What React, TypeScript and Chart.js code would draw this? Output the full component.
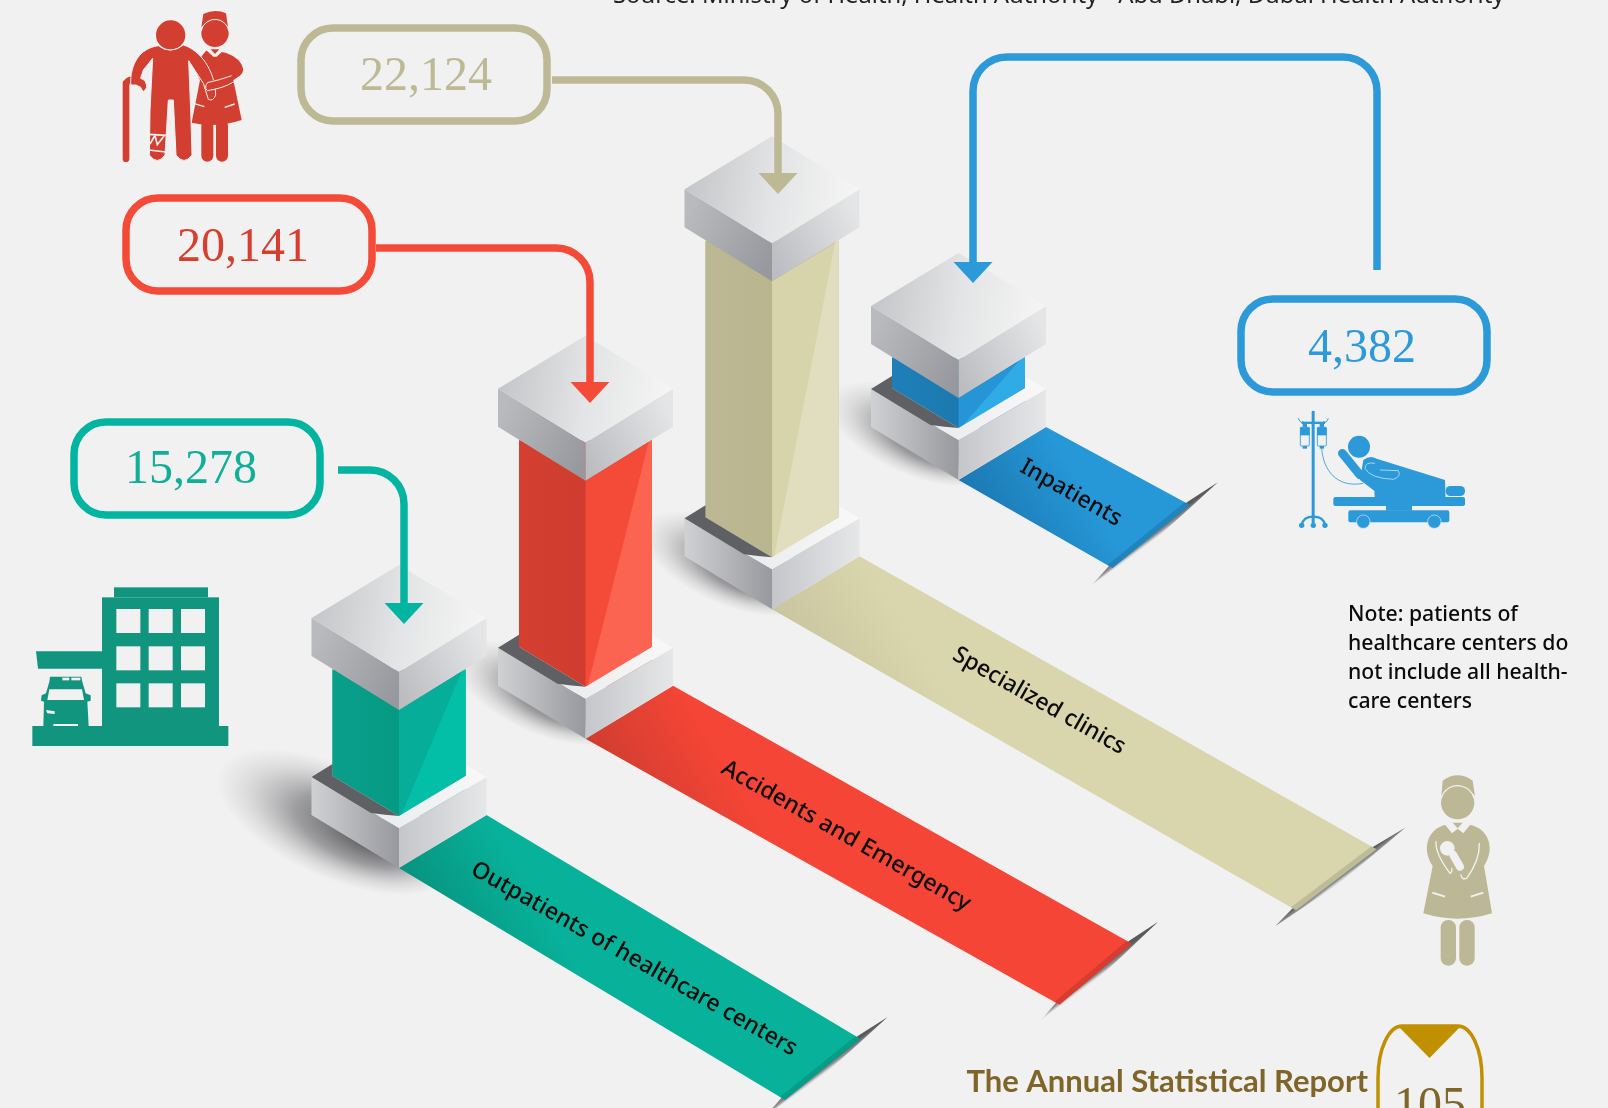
import React, { useEffect, useRef } from "react";
import { Chart, registerables, LinearScale } from "chart.js";

const categories = ["Outpatients of healthcare centers", "Accidents and Emergency", "Specialized clinics", "Inpatients"];
const patients = [15278, 20141, 22124, 4382];
const noteLines = ["Note: patients of", "healthcare centers do", "not include all health-", "care centers"];
const sourceText = "Source: Ministry of Health, Health Authority - Abu Dhabi, Dubai Health Authority";

// The reference's column heights are not proportional: this axis reproduces its value → height mapping.
const axisValues = [0, 4382, 15278, 20141, 22124];
const axisHeights = [0, 30, 106, 206, 276];

class PictureHeightScale extends LinearScale {
  static id = "pictureHeight";
  static defaults = LinearScale.defaults;
  getPixelForValue(v: number) {
    if (v === null || v === undefined || Number.isNaN(v)) return NaN;
    const max = axisHeights[axisHeights.length - 1];
    let h = 0;
    for (let i = 1; i < axisValues.length; i++) {
      if (v <= axisValues[i]) {
        const t = (v - axisValues[i - 1]) / (axisValues[i] - axisValues[i - 1]);
        h = axisHeights[i - 1] + t * (axisHeights[i] - axisHeights[i - 1]);
        break;
      }
      h = max;
    }
    return this.bottom - (h / max) * (this.bottom - this.top);
  }
}
Chart.register(...registerables, PictureHeightScale);

const BG = "#f1f1f1";
const PAL = [
  { left: "#069a85", left2: "#0a9f8a", right: "#06ae9a", facet: "#04bfa8", ribbon: "#08b29a", ribbonDark: "#07937f", box: "#03b5a1", text: "#12ae98", stroke: "#03b5a1" },
  { left: "#cf3c2d", left2: "#d43f30", right: "#f44a38", facet: "#fa6450", ribbon: "#f44536", ribbonDark: "#cf3d30", box: "#f44b38", text: "#d43f30", stroke: "#f44b38" },
  { left: "#b9b58f", left2: "#bcb893", right: "#d7d3ab", facet: "#e1debf", ribbon: "#d9d5ad", ribbonDark: "#c9c59e", box: "#bdb995", text: "#bdb995", stroke: "#bdb995" },
  { left: "#1c79b0", left2: "#1e7fb8", right: "#2595d8", facet: "#2fabe5", ribbon: "#2698d8", ribbonDark: "#1b78b2", box: "#2c9ad8", text: "#2c9ad8", stroke: "#2c9ad8" },
];
const RISE = 129.33;
const SIDE = 40.5;

type Pt = [number, number];
function poly(c: CanvasRenderingContext2D, pts: Pt[], fill: any) {
  c.beginPath();
  pts.forEach((p, i) => (i ? c.lineTo(p[0], p[1]) : c.moveTo(p[0], p[1])));
  c.closePath();
  c.fillStyle = fill;
  c.fill();
}
function grad(c: CanvasRenderingContext2D, x0: number, y0: number, x1: number, y1: number, stops: [number, string][]) {
  const g = c.createLinearGradient(x0, y0, x1, y1);
  stops.forEach(([o, col]) => g.addColorStop(o, col));
  return g;
}
function rr(c: CanvasRenderingContext2D, x: number, y: number, w: number, h: number, r: number) {
  c.beginPath();
  c.roundRect(x, y, w, h, r);
}

function drawGroundShadow(c: CanvasRenderingContext2D, x: number, T: number, reach: number) {
  c.save();
  c.translate(x - reach * 0.5, T + 6);
  c.rotate(0.42);
  c.scale(1, 0.44);
  const g = c.createRadialGradient(reach * 0.35, 0, 0, 0, 0, reach);
  g.addColorStop(0, "rgba(50,50,54,0.88)");
  g.addColorStop(0.5, "rgba(80,80,84,0.52)");
  g.addColorStop(0.8, "rgba(120,120,124,0.18)");
  g.addColorStop(1, "rgba(140,140,144,0)");
  c.fillStyle = g;
  c.beginPath();
  c.arc(0, 0, reach, 0, Math.PI * 2);
  c.fill();
  c.restore();
}

// ribbon end corners relative to the plate corners
const RIBBON_ENDS: [number, number, number, number][] = [
  [374, 224, 386, 232],
  [459, 258, 474, 266],
  [517, 293, 524, 301],
  [144, 78, 154, 88],
];
const SHADOW_REACH = [128, 92, 92, 92];

function drawRibbon(c: CanvasRenderingContext2D, i: number, x: number, T: number) {
  const p = PAL[i];
  const e = RIBBON_ENDS[i];
  const U: Pt = [x + 87.5, T - 1];
  const L: Pt = [x, T + 52];
  const UE: Pt = [U[0] + e[0], U[1] + e[1]];
  const LE: Pt = [L[0] + e[2], L[1] + e[3]];
  const ex = UE[0] - LE[0], ey = UE[1] - LE[1];
  const a: Pt = [LE[0] - ex * 0.26, LE[1] - ey * 0.26];
  const b: Pt = [UE[0] + ex * 0.36, UE[1] + ey * 0.36];
  const n: Pt = [0.6, 0.8];
  const mid: Pt = [(LE[0] + UE[0]) / 2, (LE[1] + UE[1]) / 2];
  const m: Pt = [mid[0] + n[0] * 5, mid[1] + n[1] * 5];
  poly(c, [a, m, b, [UE[0] - n[0] * 4, UE[1] - n[1] * 4], [LE[0] - n[0] * 4, LE[1] - n[1] * 4]],
    grad(c, mid[0] - n[0] * 3, mid[1] - n[1] * 3, mid[0] + n[0] * 5, mid[1] + n[1] * 5, [[0, "#5a5a5c"], [0.55, "#979799"], [1, "rgba(241,241,241,0.1)"]]));
  poly(c, [U, UE, LE, L], grad(c, L[0], L[1], L[0] + 150, L[1] - 90, [[0, p.ribbonDark], [0.6, p.ribbon], [1, p.ribbon]]));
  // faint rim on the far edge
  c.save();
  c.globalAlpha = 0.12;
  poly(c, [[UE[0] - 5, UE[1] - 3], UE, LE, [LE[0] - 5, LE[1] - 3]], "#000");
  c.restore();
}

function drawPlateSides(c: CanvasRenderingContext2D, x: number, T: number) {
  poly(c, [[x - 87.5, T - 39], [x, T + 12], [x, T + 52], [x - 87.5, T - 1]],
    grad(c, x - 87.5, T, x, T, [[0, "#d0d1d3"], [1, "#98999e"]]));
  poly(c, [[x + 87.5, T - 39], [x, T + 12], [x, T + 52], [x + 87.5, T - 1]],
    grad(c, x, T, x + 87.5, T, [[0, "#c5c6c9"], [1, "#e6e7e9"]]));
}
function drawPlateTop(c: CanvasRenderingContext2D, x: number, T: number) {
  poly(c, [[x - 87.5, T - 39], [x, T - 92], [x + 87.5, T - 39], [x, T + 12]], "#f7f7f8");
}
function drawPlateFront(c: CanvasRenderingContext2D, x: number, T: number) {
  drawPlateSides(c, x, T);
  poly(c, [[x - 87.5, T - 39], [x - 66.5, T - 40], [x, T], [x + 66.5, T - 40], [x + 87.5, T - 39], [x, T + 12]],
    grad(c, x - 40, T, x + 87, T - 30, [[0, "#e9eaeb"], [1, "#f8f8f9"]]));
  c.beginPath();
  c.moveTo(x - 87.5, T - 39);
  c.lineTo(x - 66.5, T - 52);
  c.lineTo(x - 66.5, T - 40);
  c.lineTo(x, T);
  c.quadraticCurveTo(x - 14, T - 1, x - 28, T - 3);
  c.closePath();
  c.fillStyle = "#5f6063";
  c.fill();
}
function drawShaftFaces(c: CanvasRenderingContext2D, i: number, x: number, T: number, B: number) {
  const p = PAL[i];
  const hw = 66.5;
  poly(c, [[x - hw, B - SIDE], [x, B], [x, T], [x - hw, T - SIDE]], grad(c, x - hw, T, x, T, [[0, p.left2], [1, p.left]]));
  poly(c, [[x, B], [x + hw, B - SIDE], [x + hw, T - SIDE], [x, T]], p.right);
  poly(c, [[x + 2, T], [x + hw - 3, B - SIDE], [x + hw, B - SIDE], [x + hw, T - SIDE]], p.facet);
}
function drawBlock(c: CanvasRenderingContext2D, x: number, B: number) {
  poly(c, [[x - 87.5, B - 92], [x, B - 38], [x, B], [x - 87.5, B - 54]],
    grad(c, x - 87.5, B - 60, x, B - 20, [[0, "#b9babd"], [1, "#97989d"]]));
  poly(c, [[x + 87.5, B - 92], [x, B - 38], [x, B], [x + 87.5, B - 54]],
    grad(c, x, B - 20, x + 87.5, B - 60, [[0, "#bcbdc0"], [1, "#e4e5e7"]]));
  poly(c, [[x - 87.5, B - 92], [x, B - 145], [x + 87.5, B - 92], [x, B - 38]],
    grad(c, x - 87.5, B - 100, x + 87.5, B - 75, [[0, "#c4c5c8"], [0.5, "#e3e4e5"], [1, "#f6f6f6"]]));
}

function leader(c: CanvasRenderingContext2D, pts: Pt[], color: string) {
  c.save();
  c.strokeStyle = color;
  c.lineWidth = 7.5;
  c.beginPath();
  c.moveTo(pts[0][0], pts[0][1]);
  for (let i = 1; i < pts.length - 1; i++) c.arcTo(pts[i][0], pts[i][1], pts[i + 1][0], pts[i + 1][1], 34);
  c.lineTo(pts[pts.length - 1][0], pts[pts.length - 1][1]);
  c.stroke();
  const [tx, ty] = pts[pts.length - 1];
  poly(c, [[tx - 19.5, ty - 3], [tx + 19.5, ty - 3], [tx, ty + 18]], color);
  c.restore();
}
function callout(c: CanvasRenderingContext2D, x: number, y: number, color: string, textColor: string, text: string, cx: number, base: number) {
  c.save();
  c.strokeStyle = color;
  c.lineWidth = 7.5;
  rr(c, x + 1, y + 1, 246, 93, 32);
  c.stroke();
  c.fillStyle = textColor;
  c.font = '48px "Liberation Serif"';
  c.textAlign = "center";
  c.textBaseline = "alphabetic";
  c.fillText(text, cx, base);
  c.restore();
}

function elderIcon(c: CanvasRenderingContext2D) {
  c.save();
  c.translate(100, 0);
  c.scale(1 / 3, 1 / 3);
  const col = "#d23e2f";
  c.fillStyle = col;
  rr(c, 68, 240, 20, 246, 10);
  c.fill();
  c.strokeStyle = col;
  c.lineWidth = 18;
  c.beginPath();
  c.moveTo(78, 255);
  c.quadraticCurveTo(80, 240, 95, 238);
  c.stroke();
  rr(c, 304, 360, 36, 125, 18);
  c.fill();
  rr(c, 348, 360, 36, 125, 18);
  c.fill();
  c.beginPath();
  c.moveTo(318, 152);
  c.quadraticCurveTo(385, 150, 415, 180);
  c.quadraticCurveTo(445, 215, 412, 232);
  c.lineTo(400, 240);
  c.lineTo(425, 360);
  c.quadraticCurveTo(350, 385, 275, 368);
  c.lineTo(300, 240);
  c.lineTo(280, 200);
  c.closePath();
  c.fill();
  c.beginPath();
  c.arc(345, 100, 41, 0, Math.PI * 2);
  c.fill();
  c.beginPath();
  c.moveTo(304, 82);
  c.lineTo(310, 42);
  c.quadraticCurveTo(345, 25, 378, 40);
  c.lineTo(384, 82);
  c.quadraticCurveTo(345, 35, 304, 82);
  c.fill();
  c.strokeStyle = BG;
  c.lineWidth = 3;
  c.beginPath();
  c.arc(345, 100, 42, Math.PI * 1.05, Math.PI * 1.95);
  c.stroke();
  c.fillStyle = BG;
  c.beginPath();
  c.moveTo(318, 150);
  c.lineTo(372, 150);
  c.lineTo(350, 170);
  c.lineTo(340, 170);
  c.closePath();
  c.fill();
  poly(c, [[332, 148], [358, 148], [345, 162]], col);
  c.strokeStyle = BG;
  c.lineWidth = 4;
  c.beginPath();
  c.moveTo(283, 311); c.lineTo(313, 320);
  c.moveTo(374, 322); c.lineTo(404, 312);
  c.stroke();
  c.beginPath();
  c.arc(212, 105, 44, 0, Math.PI * 2);
  c.fillStyle = col;
  c.fill();
  c.beginPath();
  c.moveTo(92, 255);
  c.bezierCurveTo(90, 190, 120, 145, 175, 137);
  c.quadraticCurveTo(212, 165, 250, 135);
  c.bezierCurveTo(300, 150, 345, 210, 347, 285);
  c.quadraticCurveTo(340, 305, 325, 298);
  c.lineTo(310, 250);
  c.lineTo(266, 182);
  c.lineTo(272, 330);
  c.lineTo(276, 465);
  c.quadraticCurveTo(252, 498, 228, 465);
  c.lineTo(220, 300);
  c.lineTo(205, 300);
  c.lineTo(195, 465);
  c.quadraticCurveTo(172, 498, 148, 465);
  c.lineTo(150, 330);
  c.lineTo(158, 175);
  c.lineTo(130, 210);
  c.lineTo(122, 235);
  c.quadraticCurveTo(140, 240, 140, 262);
  c.quadraticCurveTo(130, 285, 122, 262);
  c.lineTo(108, 255);
  c.closePath();
  c.fill();
  c.strokeStyle = BG;
  c.lineWidth = 3;
  c.stroke();
  c.strokeStyle = col;
  c.lineWidth = 26;
  c.lineCap = "round";
  c.beginPath();
  c.moveTo(412, 215);
  c.quadraticCurveTo(385, 240, 330, 258);
  c.stroke();
  c.strokeStyle = BG;
  c.lineWidth = 3;
  c.lineCap = "butt";
  c.beginPath();
  c.moveTo(395, 227);
  c.quadraticCurveTo(360, 240, 322, 248);
  c.quadraticCurveTo(312, 262, 322, 272);
  c.quadraticCurveTo(370, 265, 402, 245);
  c.stroke();
  c.lineWidth = 5;
  c.beginPath();
  c.moveTo(146, 403); c.lineTo(198, 406);
  c.moveTo(150, 432); c.lineTo(165, 406); c.lineTo(172, 434); c.lineTo(192, 408);
  c.moveTo(146, 450); c.lineTo(198, 456);
  c.stroke();
  c.restore();
}

function hospitalIcon(c: CanvasRenderingContext2D) {
  c.save();
  c.translate(20, 570);
  c.scale(1 / 3, 1 / 3);
  const col = "#12957f";
  c.fillStyle = col;
  c.fillRect(37, 468, 588, 60);
  c.fillRect(246, 82, 351, 386);
  c.fillRect(282, 52, 282, 30);
  poly(c, [[48, 244], [246, 244], [246, 296], [54, 296]], col);
  c.fillStyle = BG;
  [289, 386, 483].forEach((x) => [117, 229, 340].forEach((y) => c.fillRect(x, y, 72, 72)));
  poly(c, [[90, 320], [184, 320], [187, 335], [197, 370], [212, 376], [212, 392], [202, 395], [206, 468], [70, 468], [72, 395], [63, 392], [65, 376], [78, 370], [88, 335]], col);
  poly(c, [[88, 358], [186, 358], [192, 390], [82, 390]], BG);
  c.fillStyle = BG;
  c.fillRect(127, 323, 21, 8);
  c.fillRect(154, 323, 27, 8);
  c.fillRect(100, 462, 74, 6);
  poly(c, [[78, 420], [104, 424], [104, 432], [82, 430]], BG);
  c.restore();
}

function bedIcon(c: CanvasRenderingContext2D) {
  c.save();
  c.translate(1280, 400);
  c.scale(1 / 3, 1 / 3);
  const col = "#2c9ad8";
  c.fillStyle = col;
  c.strokeStyle = col;
  rr(c, 95, 32, 9, 340, 4);
  c.fill();
  c.fillRect(65, 65, 70, 7);
  c.lineWidth = 7;
  c.beginPath();
  c.moveTo(65, 375);
  c.quadraticCurveTo(70, 350, 100, 350);
  c.quadraticCurveTo(130, 350, 135, 375);
  c.stroke();
  [65, 100, 135].forEach((x) => { c.beginPath(); c.arc(x, 376, 8, 0, Math.PI * 2); c.fill(); });
  c.lineWidth = 3;
  c.beginPath();
  c.moveTo(55, 55); c.quadraticCurveTo(62, 72, 70, 65);
  c.moveTo(145, 55); c.quadraticCurveTo(138, 72, 130, 65);
  c.stroke();
  [60, 111].forEach((x) => {
    c.lineWidth = 2.5;
    rr(c, x + 1, 82, 27, 56, 3);
    c.stroke();
    c.fillRect(x, 82, 29, 24);
    c.fillRect(x + 8, 138, 13, 8);
    c.fillRect(x + 8, 68, 13, 14);
  });
  c.lineWidth = 2.5;
  c.beginPath();
  c.moveTo(125, 146);
  c.bezierCurveTo(130, 210, 170, 265, 250, 250);
  c.stroke();
  c.beginPath();
  c.arc(237, 140, 33, 0, Math.PI * 2);
  c.fill();
  c.lineWidth = 26;
  c.lineCap = "round";
  c.beginPath();
  c.moveTo(187, 160);
  c.lineTo(240, 225);
  c.stroke();
  c.lineCap = "butt";
  c.beginPath();
  c.moveTo(250, 180);
  c.quadraticCurveTo(270, 165, 290, 176);
  c.lineTo(495, 240);
  c.lineTo(497, 305);
  c.lineTo(285, 305);
  c.lineTo(283, 272);
  c.lineTo(240, 240);
  c.closePath();
  c.fill();
  c.strokeStyle = "#bfe0f2";
  c.lineWidth = 2.5;
  c.beginPath();
  c.moveTo(285, 190);
  c.quadraticCurveTo(255, 185, 255, 205);
  c.quadraticCurveTo(270, 235, 340, 238);
  c.quadraticCurveTo(365, 230, 355, 212);
  c.lineTo(300, 210);
  c.stroke();
  c.fillStyle = col;
  rr(c, 497, 258, 58, 30, 14);
  c.fill();
  rr(c, 160, 291, 395, 27, 6);
  c.fill();
  c.fillRect(318, 318, 78, 14);
  rr(c, 205, 331, 303, 36, 6);
  c.fill();
  [250, 463].forEach((x) => {
    c.beginPath();
    c.arc(x, 365, 20, 0, Math.PI * 2);
    c.fillStyle = col;
    c.fill();
    c.strokeStyle = "#dbeaf3";
    c.lineWidth = 2;
    c.stroke();
  });
  c.restore();
}

function nurseIcon(c: CanvasRenderingContext2D) {
  c.save();
  c.translate(1400, 760);
  c.scale(1 / 3, 1 / 3);
  const col = "#bcb896";
  c.fillStyle = col;
  rr(c, 122, 480, 46, 137, 22);
  c.fill();
  rr(c, 178, 480, 46, 137, 22);
  c.fill();
  c.beginPath();
  c.moveTo(135, 195);
  c.bezierCurveTo(90, 205, 60, 260, 98, 318);
  c.lineTo(70, 460);
  c.quadraticCurveTo(173, 492, 276, 460);
  c.lineTo(252, 318);
  c.bezierCurveTo(290, 260, 260, 205, 212, 195);
  c.closePath();
  c.fill();
  c.beginPath();
  c.arc(173, 128, 50, 0, Math.PI * 2);
  c.fill();
  c.beginPath();
  c.moveTo(124, 108);
  c.lineTo(128, 62);
  c.quadraticCurveTo(173, 30, 218, 62);
  c.lineTo(225, 108);
  c.quadraticCurveTo(173, 50, 124, 108);
  c.fill();
  c.strokeStyle = BG;
  c.lineWidth = 3.5;
  c.beginPath();
  c.arc(173, 128, 51, Math.PI * 1.08, Math.PI * 1.92);
  c.stroke();
  poly(c, [[136, 195], [152, 184], [194, 184], [210, 195], [190, 220], [173, 206], [156, 220]], BG);
  poly(c, [[158, 188], [188, 188], [173, 205]], col);
  c.fillStyle = BG;
  c.beginPath();
  c.arc(142, 265, 22, 0, Math.PI * 2);
  c.fill();
  c.strokeStyle = BG;
  c.lineWidth = 24;
  c.lineCap = "round";
  c.beginPath();
  c.moveTo(160, 285);
  c.lineTo(180, 320);
  c.stroke();
  c.lineWidth = 4;
  c.beginPath();
  c.moveTo(108, 245);
  c.quadraticCurveTo(105, 280, 150, 340);
  c.quadraticCurveTo(158, 335, 155, 325);
  c.moveTo(238, 250);
  c.quadraticCurveTo(240, 300, 200, 355);
  c.quadraticCurveTo(185, 360, 183, 345);
  c.stroke();
  c.lineCap = "butt";
  c.lineWidth = 6;
  c.beginPath();
  c.moveTo(97, 398); c.lineTo(135, 410);
  c.moveTo(212, 410); c.lineTo(250, 398);
  c.stroke();
  c.restore();
}

function ribbonText(c: CanvasRenderingContext2D, text: string, x: number, y: number) {
  c.save();
  c.translate(x, y);
  c.rotate(0.515);
  c.fillStyle = "#0b0b0b";
  c.font = '500 23px "Noto Sans"';
  c.textAlign = "center";
  c.textBaseline = "middle";
  c.fillText(text, 0, 0);
  c.restore();
}

function pageBox(c: CanvasRenderingContext2D) {
  const l = 1378, r = 1482, t = 1026, rx = 24, ry = 52;
  c.strokeStyle = "#c19000";
  c.lineWidth = 3.5;
  c.beginPath();
  c.moveTo(l, 1190);
  c.lineTo(l, t + ry);
  c.ellipse(l + rx, t + ry, rx, ry, 0, Math.PI, Math.PI * 1.5);
  c.lineTo(r - rx, t);
  c.ellipse(r - rx, t + ry, rx, ry, 0, Math.PI * 1.5, Math.PI * 2);
  c.lineTo(r, 1190);
  c.stroke();
  poly(c, [[1398, 1026], [1461, 1026], [1429.5, 1058]], "#c19000");
}

const isoPlugin = {
  id: "isoPillars",
  afterDatasetsUpdate(chart: any) {
    chart.getDatasetMeta(0).data.forEach((el: any, i: number) => {
      const lift = i * RISE;
      el.base -= lift;
      el.y -= lift + SIDE;
    });
  },
  beforeDatasetsDraw(chart: any) {
    const c = chart.ctx as CanvasRenderingContext2D;
    c.save();
    c.fillStyle = BG;
    c.fillRect(0, 0, chart.width, chart.height);
    chart.getDatasetMeta(0).data.forEach((el: any, i: number) => {
      const T = el.base;
      drawGroundShadow(c, el.x, T, SHADOW_REACH[i]);
      drawRibbon(c, i, el.x, T);
      drawPlateTop(c, el.x, T);
    });
    c.restore();
  },
  afterDatasetsDraw(chart: any) {
    const c = chart.ctx as CanvasRenderingContext2D;
    c.save();
    const els = chart.getDatasetMeta(0).data;
    els.forEach((el: any, i: number) => {
      const T = el.base;
      const B = el.y + SIDE;
      drawShaftFaces(c, i, el.x, T, B);
      drawPlateFront(c, el.x, T);
      drawBlock(c, el.x, B);
    });
    const fmt = (v: number) => v.toLocaleString("en-US");
    leader(c, [[338, 470], [404, 470], [404, 606]], PAL[0].stroke);
    leader(c, [[376, 248], [590, 248], [590, 385]], PAL[1].stroke);
    leader(c, [[552, 80], [778, 80], [778, 176]], PAL[2].stroke);
    leader(c, [[1377, 270], [1377, 57], [973, 57], [973, 265]], PAL[3].stroke);
    callout(c, 73, 421, PAL[0].box, PAL[0].text, fmt(patients[0]), 191, 483);
    callout(c, 125, 197, PAL[1].box, PAL[1].text, fmt(patients[1]), 243, 261);
    callout(c, 300, 27, PAL[2].box, PAL[2].text, fmt(patients[2]), 426, 90);
    callout(c, 1240, 298, PAL[3].box, PAL[3].text, fmt(patients[3]), 1362, 362);
    ribbonText(c, categories[0], 634, 959);
    ribbonText(c, categories[1], 846, 836);
    ribbonText(c, categories[2], 1039, 701);
    ribbonText(c, categories[3], 1071, 493);
    elderIcon(c);
    hospitalIcon(c);
    bedIcon(c);
    nurseIcon(c);
    c.fillStyle = "#0b0b0b";
    c.font = '500 21.2px "Noto Sans"';
    c.textAlign = "left";
    c.textBaseline = "alphabetic";
    noteLines.forEach((l, i) => c.fillText(l, 1348, 621 + i * 29));
    c.fillStyle = "#222";
    c.font = '23.8px "Noto Sans"';
    c.fillText(sourceText, 613, 3);
    c.fillStyle = "#7f6528";
    c.font = 'bold 31px "Lato"';
    c.textAlign = "right";
    c.fillText("The Annual Statistical Report", 1368, 1092);
    c.font = 'bold 23.3px "Lato"';
    c.fillText("Official Statistical Indicators", 1343, 1125);
    pageBox(c);
    c.fillStyle = "#7f6528";
    c.font = '48px "Liberation Serif"';
    c.textAlign = "center";
    c.fillText("105", 1430, 1120);
    c.restore();
  },
};

export default function App() {
  const ref = useRef<HTMLCanvasElement>(null);
  useEffect(() => {
    const chart = new Chart(ref.current as HTMLCanvasElement, {
      type: "bar",
      data: {
        labels: categories,
        datasets: [
          {
            label: "Patients",
            data: patients,
            backgroundColor: PAL.map((p) => p.left),
            borderWidth: 0,
            categoryPercentage: 1,
            barPercentage: 133 / 186.5,
            clip: false,
          } as any,
        ],
      },
      options: {
        responsive: false,
        animation: false,
        events: [],
        layout: { padding: { left: 305.75, right: 556.25, top: 540, bottom: 292 } },
        plugins: { legend: { display: false }, title: { display: false }, tooltip: { enabled: false } },
        scales: {
          x: { display: false, offset: true, grid: { display: false } },
          y: { type: "pictureHeight", display: false, min: 0, max: 22124, grid: { display: false } } as any,
        },
      },
      plugins: [isoPlugin],
    });
    return () => chart.destroy();
  }, []);
  return (
    <div style={{ position: "fixed", left: 0, top: 0, width: 1608, height: 1108, background: BG, overflow: "hidden" }}>
      <canvas ref={ref} width={1608} height={1108} style={{ display: "block" }} />
    </div>
  );
}
